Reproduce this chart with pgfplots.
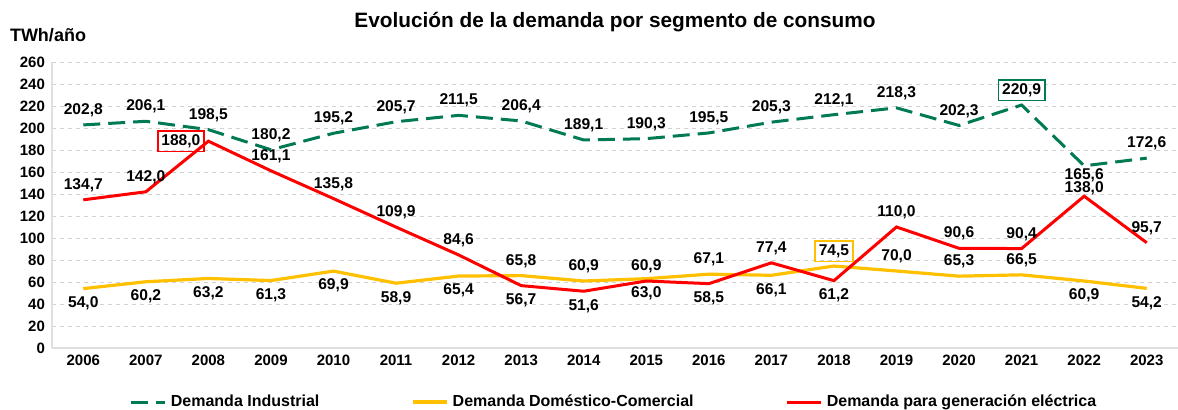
\documentclass[border=0pt]{standalone}
\usepackage{fontspec}
\setmainfont{Liberation Sans}
\usepackage{pgfplots}
\usepackage{pgfplotstable}
\pgfplotsset{compat=1.18}
\definecolor{indgreen}{RGB}{0,122,84}
\definecolor{domyellow}{RGB}{255,192,0}
\definecolor{elered}{RGB}{255,0,0}

\pgfplotstableread{
x y lab ang
0 202.8 202,8 270
1 206.1 206,1 270
2 198.5 198,5 270
3 180.2 180,2 270
4 195.2 195,2 270
5 205.7 205,7 270
6 211.5 211,5 270
7 206.4 206,4 270
8 189.1 189,1 270
9 190.3 190,3 270
10 195.5 195,5 270
11 205.3 205,3 270
12 212.1 212,1 270
13 218.3 218,3 270
14 202.3 202,3 270
15 220.9 {} 270
16 165.6 {} 90
17 172.6 172,6 270
}\industrial

\pgfplotstableread{
x y lab ang
0 54.0 54,0 90
1 60.2 60,2 90
2 63.2 63,2 90
3 61.3 61,3 90
4 69.9 69,9 90
5 58.9 58,9 90
6 65.4 65,4 90
7 65.8 65,8 270
8 60.9 60,9 270
9 63.0 63,0 90
10 67.1 67,1 270
11 66.1 66,1 90
12 74.5 {} 270
13 70.0 70,0 270
14 65.3 65,3 270
15 66.5 66,5 270
16 60.9 60,9 90
17 54.2 54,2 90
}\domestico

\pgfplotstableread{
x y lab ang
0 134.7 134,7 270
1 142.0 142,0 270
2 188.0 {} 0
3 161.1 161,1 270
4 135.8 135,8 270
5 109.9 109,9 270
6 84.6 84,6 270
7 56.7 56,7 90
8 51.6 51,6 90
9 60.9 60,9 270
10 58.5 58,5 90
11 77.4 77,4 270
12 61.2 61,2 90
13 110.0 110,0 270
14 90.6 90,6 270
15 90.4 90,4 270
16 {} {} 270
17 95.7 95,7 270
}\electricalbl

\pgfplotstableread{
x y
0 134.7
1 142.0
2 188.0
3 161.1
4 135.8
5 109.9
6 84.6
7 56.7
8 51.6
9 60.9
10 58.5
11 77.4
12 61.2
13 110.0
14 90.6
15 90.4
16 138.0
17 95.7
}\electrica

\begin{document}
\begin{tikzpicture}
\pgfplotsset{
  lblbase/.style={
    nodes near coords={\pgfplotspointmeta},
    point meta=explicit symbolic,
    every node near coord/.append style={font=\bfseries\fontsize{7.8}{9}\selectfont, text=black,
      inner sep=1.8pt, outer sep=2.2pt}},
  lbl/.style={lblbase,
    visualization depends on={\thisrow{ang}\as\myang},
    every node near coord/.append style={anchor=\myang}},
  boxlbl/.style 2 args={lblbase, draw=none, mark=none, forget plot,
    every node near coord/.append style={draw=#1, line width=0.8pt, anchor=#2}},
  shiftlbl/.style 2 args={lblbase, draw=none, mark=none, forget plot,
    every node near coord/.append style={anchor=#1, yshift=#2}},
}
\begin{axis}[
  scale only axis,
  width=563pt, height=143pt,
  xmin=-0.5, xmax=17.5,
  ymin=0, ymax=260,
  xtick={0,...,17},
  xticklabels={2006,2007,2008,2009,2010,2011,2012,2013,2014,2015,2016,2017,2018,2019,2020,2021,2022,2023},
  ytick={0,20,...,260},
  major tick length=0pt,
  /pgf/number format/assume math mode=true,
  tick label style={font=\bfseries\fontsize{7.5}{9}\selectfont},
  axis x line*=bottom, axis y line*=left,
  axis line style={-, gray!25, line width=0.6pt},
  ymajorgrids,
  grid style={gray!35, line width=0.4pt, dash pattern=on 2pt off 2pt},
  clip=false,
  legend columns=3,
  legend style={at={(0.5,-0.189)}, anchor=center, draw=none, fill=none,
    font=\bfseries\fontsize{8}{9.6}\selectfont,
    /tikz/every even column/.append style={column sep=44pt}},
]
\addplot[indgreen, line width=1.5pt, dash pattern=on 8.5pt off 4pt, mark=none, lbl] table[x=x, y=y, meta=lab] {\industrial};
\addlegendentry{Demanda Industrial}
\addplot[domyellow, line width=1.6pt, mark=none, lbl] table[x=x, y=y, meta=lab] {\domestico};
\addlegendentry{Demanda Doméstico-Comercial}
\addplot[elered, line width=1.5pt, mark=none] table[x=x, y=y] {\electrica};
\addlegendentry{Demanda para generación eléctrica}
\addplot[draw=none, mark=none, forget plot, lbl] table[x=x, y=y, meta=lab] {\electricalbl};
\addplot[boxlbl={indgreen}{south}] coordinates {(15,220.9) [220,9]};
\addplot[boxlbl={domyellow}{south}] coordinates {(12,74.5) [74,5]};
\addplot[boxlbl={elered}{east}] coordinates {(2,188.0) [188,0]};
\addplot[shiftlbl={north}{2.5pt}] coordinates {(16,165.6) [165,6]};
\addplot[shiftlbl={south}{-3.5pt}] coordinates {(16,138.0) [138,0]};
\end{axis}
\node[font=\bfseries\fontsize{10.4}{12}\selectfont] at (281.5pt,163pt) {Evolución de la demanda por segmento de consumo};
\node[font=\bfseries\fontsize{9}{11}\selectfont] at (-2pt,156.5pt) {TWh/año};
\pgfresetboundingbox
\path[use as bounding box] (-26pt,-31pt) rectangle (563pt,174pt);
\end{tikzpicture}
\end{document}
